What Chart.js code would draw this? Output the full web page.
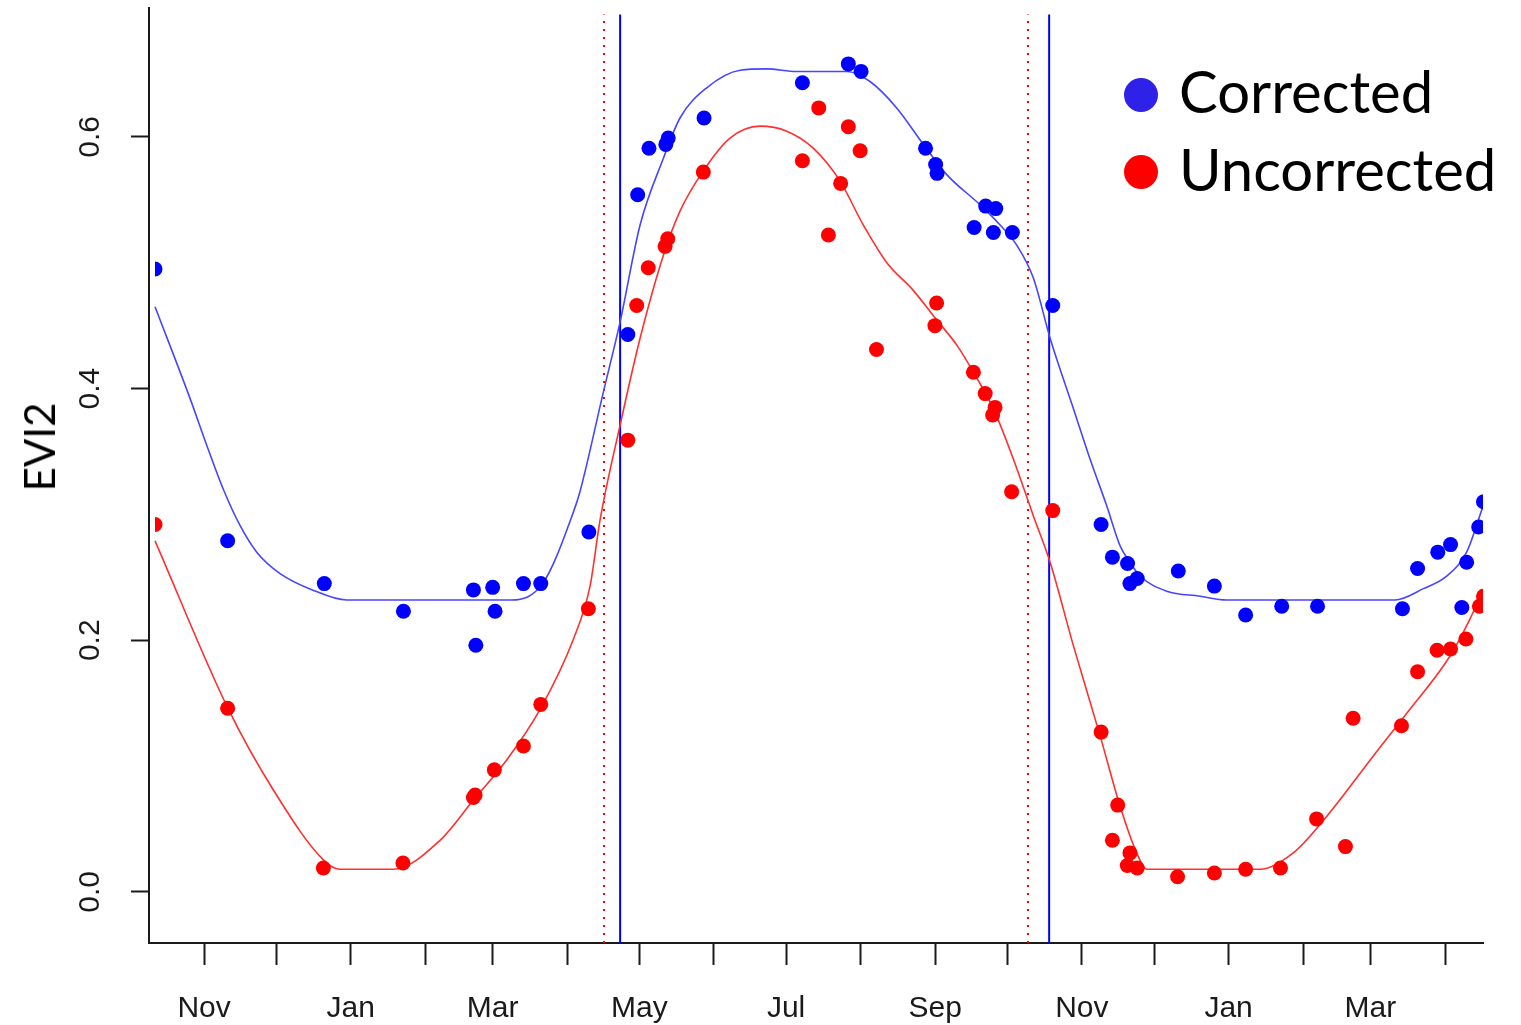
<!DOCTYPE html>
<html>
<head>
<meta charset="utf-8">
<title>EVI2</title>
<script src="https://cdn.jsdelivr.net/npm/chart.js@4/dist/chart.umd.min.js"></script>
<style>
  html, body { margin: 0; padding: 0; background: #fff; }
  #wrap { position: relative; width: 1521px; height: 1025px; }
  #evi { position: absolute; left: 39px; top: 447px; transform: translate(-50%, -50%) rotate(-90deg);
         font: 42px Lato, sans-serif; line-height: 1; color: #000; white-space: nowrap; }
  .dot { position: absolute; width: 34px; height: 34px; border-radius: 50%; }
  .lab { position: absolute; left: 1179px; font: 58px Lato, sans-serif; line-height: 58px; color: #000; white-space: nowrap; }
</style>
</head>
<body>
<div id="wrap">
  <canvas id="evi2Chart" width="1521" height="1025"></canvas>
  <div id="evi">EVI2</div>
  <div class="dot" style="left:1124px; top:78px; background:#2e22e8;"></div>
  <div class="lab" style="top:62px;">Corrected</div>
  <div class="dot" style="left:1124px; top:155px; background:#ff0000;"></div>
  <div class="lab" style="top:140px;">Uncorrected</div>
</div>
<script>
// x values are days counted from 1 Nov of the first season
const monthDays = [0, 30, 61, 92, 120, 151, 181, 212, 242, 273, 304, 334, 365, 395, 426, 457, 485, 516];
const monthLabels = ['Nov', '', 'Jan', '', 'Mar', '', 'May', '', 'Jul', '', 'Sep', '', 'Nov', '', 'Jan', '', 'Mar', ''];
const yTicks = [0, 0.2, 0.4, 0.6];

// observations
const correctedDays = [-20.4, 9.8, 50.0, 82.9, 112.0, 113.0, 120.0, 121.0, 132.8, 140.0, 160.0, 176.2, 180.3, 185.0,
    192.0, 193.0, 207.9, 248.8, 267.9, 273.2, 300.0, 304.2, 304.8, 320.2, 325.0, 328.2, 329.2, 336.1, 352.9,
    373.0, 377.7, 384.0, 385.0, 388.0, 405.1, 420.1, 433.1, 448.1, 463.0, 498.3, 504.6, 513.0, 518.3, 523.0,
    525.0, 530.0, 532.0];
const correctedEVI = [0.495, 0.279, 0.245, 0.223, 0.240, 0.196, 0.242, 0.223, 0.245, 0.245, 0.286, 0.443, 0.554, 0.591,
    0.594, 0.599, 0.615, 0.643, 0.658, 0.652, 0.591, 0.578, 0.571, 0.528, 0.545, 0.524, 0.543, 0.524, 0.466,
    0.292, 0.266, 0.261, 0.245, 0.249, 0.255, 0.243, 0.220, 0.227, 0.227, 0.225, 0.257, 0.270, 0.276, 0.226,
    0.262, 0.290, 0.310];

const uncorrectedDays = [-20.4, 9.8, 49.6, 82.7, 112.0, 112.7, 120.7, 132.8, 140.0, 159.8, 176.2, 179.9, 184.7, 191.7,
    192.8, 207.6, 248.8, 255.6, 259.6, 264.7, 267.9, 272.8, 279.6, 303.9, 304.6, 319.9, 324.8, 327.9, 328.9,
    335.8, 352.9, 373.0, 377.7, 379.9, 383.9, 385.0, 388.0, 404.8, 420.1, 433.1, 447.6, 462.6, 474.6, 477.8,
    497.9, 504.6, 512.7, 518.3, 524.7, 530.3, 532.0];
const uncorrectedEVI = [0.292, 0.146, 0.019, 0.023, 0.075, 0.077, 0.097, 0.116, 0.149, 0.225, 0.359, 0.466, 0.496, 0.513,
    0.519, 0.572, 0.581, 0.623, 0.522, 0.563, 0.608, 0.589, 0.431, 0.450, 0.468, 0.413, 0.396, 0.379, 0.385,
    0.318, 0.303, 0.127, 0.041, 0.069, 0.021, 0.031, 0.019, 0.012, 0.015, 0.018, 0.019, 0.058, 0.036, 0.138,
    0.132, 0.175, 0.192, 0.193, 0.201, 0.227, 0.235];

// fitted curves
const correctedFitDays = [-20.4, -5.8, 1.1, 8.0, 15.0, 21.9, 31.6, 45.0, 59.3, 127.9, 141.1, 153.6, 156.3, 166.0,
    173.0, 181.3, 191.0, 197.9, 209.0, 222.9, 234.0, 246.4, 267.2, 276.9, 288.0, 299.1, 308.8, 322.7, 331.0,
    337.9, 344.8, 351.8, 361.5, 368.4, 375.3, 380.9, 385.0, 389.2, 400.3, 414.1, 425.2, 495.2, 507.0, 516.7, 525.0,
    531.9];
const correctedFit = [0.465, 0.392, 0.355, 0.320, 0.291, 0.270, 0.253, 0.240, 0.232, 0.232, 0.246, 0.302, 0.318, 0.397,
    0.453, 0.530, 0.583, 0.615, 0.639, 0.653, 0.654, 0.652, 0.652, 0.644, 0.623, 0.594, 0.570, 0.546, 0.530,
    0.514, 0.488, 0.440, 0.384, 0.344, 0.307, 0.275, 0.262, 0.251, 0.239, 0.235, 0.232, 0.232, 0.241, 0.251, 0.270,
    0.307];

const uncorrectedFitDays = [-20.4, 9.9, 28.8, 49.6, 56.5, 78.7, 98.1, 112.0, 125.9, 139.7, 153.6, 160.5, 164.7, 173.0,
    181.3, 191.0, 197.9, 207.6, 218.7, 231.2, 242.3, 253.3, 264.4, 274.1, 283.9, 294.9, 304.0, 313.0, 319.9,
    328.2, 336.5, 344.8, 351.8, 361.5, 372.6, 380.9, 387.8, 392.0, 439.1, 452.9, 466.8, 486.2, 500.1, 518.1,
    526.4, 531.9];
const uncorrectedFit = [0.279, 0.146, 0.081, 0.0255, 0.018, 0.018, 0.041, 0.073, 0.105, 0.145, 0.201, 0.243, 0.296, 0.371,
    0.440, 0.506, 0.541, 0.573, 0.599, 0.6085, 0.6045, 0.591, 0.565, 0.530, 0.500, 0.478, 0.456, 0.4345, 0.413,
    0.384, 0.344, 0.299, 0.262, 0.1955, 0.124, 0.068, 0.031, 0.018, 0.018, 0.031, 0.060, 0.108, 0.142, 0.1875,
    0.217, 0.2406];

// season start / end markers
const uncorrectedMarks = [166.3, 342.6];
const correctedMarks = [173.0, 351.4];

const xMin = -22.9, xMax = 531.8;
const yMin = -0.0406, yMax = 0.7028;

document.addEventListener('DOMContentLoaded', function () {
    const pairs = (xs, ys) => xs.map((x, i) => ({ x: x, y: ys[i] }));

    const vline = (day, color, dash) => ({
        type: 'line',
        data: [{ x: day, y: yMin }, { x: day, y: yMax }],
        borderColor: color,
        borderWidth: 2,
        borderDash: dash,
        pointRadius: 0,
        clip: { left: 0, right: 0, top: -7, bottom: 0 }
    });

    const ctx = document.getElementById('evi2Chart').getContext('2d');
    new Chart(ctx, {
        type: 'scatter',
        data: {
            datasets: [
                {
                    label: 'Corrected',
                    data: pairs(correctedDays, correctedEVI),
                    backgroundColor: '#0000ff',
                    borderWidth: 0,
                    pointRadius: 7.5,
                    clip: { left: -6, right: 0, top: 0, bottom: 0 }
                },
                {
                    label: 'Uncorrected',
                    data: pairs(uncorrectedDays, uncorrectedEVI),
                    backgroundColor: '#ff0000',
                    borderWidth: 0,
                    pointRadius: 7.5,
                    clip: { left: -6, right: 0, top: 0, bottom: 0 }
                },
                {
                    type: 'line',
                    data: pairs(correctedFitDays, correctedFit),
                    borderColor: '#4646ff',
                    borderWidth: 1.6,
                    pointRadius: 0,
                    cubicInterpolationMode: 'monotone'
                },
                {
                    type: 'line',
                    data: pairs(uncorrectedFitDays, uncorrectedFit),
                    borderColor: '#ff3030',
                    borderWidth: 1.6,
                    pointRadius: 0,
                    cubicInterpolationMode: 'monotone'
                },
                vline(correctedMarks[0], '#0000ff', []),
                vline(correctedMarks[1], '#0000ff', []),
                vline(uncorrectedMarks[0], '#ff0000', [2, 6]),
                vline(uncorrectedMarks[1], '#ff0000', [2, 6])
            ]
        },
        options: {
            responsive: false,
            animation: false,
            layout: { padding: { left: 0, top: 7, right: 38, bottom: 0 } },
            plugins: { legend: { display: false }, tooltip: { enabled: false } },
            scales: {
                x: {
                    type: 'linear',
                    min: xMin,
                    max: xMax,
                    afterBuildTicks: (scale) => { scale.ticks = monthDays.map(v => ({ value: v })); },
                    afterFit: (scale) => {
                        scale.height = 82;
                        scale.paddingLeft = 0;
                        scale.paddingRight = 0;
                    },
                    grid: { drawOnChartArea: false, drawTicks: true, tickLength: 22, tickWidth: 2, tickColor: '#1a1a1a' },
                    border: { display: true, color: '#1a1a1a', width: 2 },
                    ticks: {
                        autoSkip: false,
                        maxRotation: 0,
                        padding: 26,
                        color: '#1a1a1a',
                        font: { family: '"Liberation Sans", Arial, sans-serif', size: 30 },
                        callback: (value, index) => monthLabels[index]
                    }
                },
                y: {
                    min: yMin,
                    max: yMax,
                    afterBuildTicks: (scale) => { scale.ticks = yTicks.map(v => ({ value: v })); },
                    afterFit: (scale) => {
                        scale.width = 149;
                        scale.paddingTop = 0;
                        scale.paddingBottom = 0;
                    },
                    grid: { drawOnChartArea: false, drawTicks: true, tickLength: 18, tickWidth: 2, tickColor: '#1a1a1a' },
                    border: { display: true, color: '#1a1a1a', width: 2 },
                    ticks: {
                        minRotation: 90,
                        maxRotation: 90,
                        crossAlign: 'center',
                        padding: 19,
                        color: '#1a1a1a',
                        font: { family: '"Liberation Sans", Arial, sans-serif', size: 30 },
                        callback: (value) => value.toFixed(1)
                    }
                }
            }
        }
    });
});
</script>
</body>
</html>
